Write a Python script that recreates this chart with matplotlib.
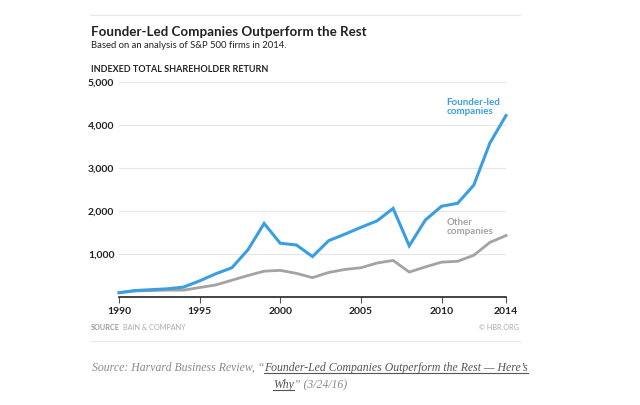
import matplotlib
matplotlib.use("Agg")
import matplotlib.pyplot as plt
from matplotlib.lines import Line2D

# data
years = list(range(1990, 2015))
founder_led = [100, 150, 170, 190, 230, 375, 540, 680, 1100, 1710, 1250, 1210, 940,
               1310, 1460, 1620, 1770, 2060, 1190, 1790, 2110, 2180, 2600, 3580, 4220]
other = [100, 140, 150, 160, 160, 220, 280, 390, 500, 600, 620, 550, 450,
         570, 640, 680, 790, 850, 580, 700, 810, 830, 970, 1270, 1430]
x_ticks = [1990, 1995, 2000, 2005, 2010, 2014]
y_ticks = [1000, 2000, 3000, 4000, 5000]

BLUE = "#3a9fe2"
GRAY = "#a3a3a3"
DARK = "#222222"
W, H = 640, 405


def fx(px):
    return px / W


def fy(py):
    return 1 - py / H


fig = plt.figure(figsize=(6.4, 4.05), dpi=100)
fig.patch.set_facecolor("white")
sans = "Lato"

ax = fig.add_axes([fx(119), fy(297), fx(506) - fx(119), fy(82) - fy(297)])
ax.plot(years, other, color=GRAY, lw=2.0, clip_on=False, solid_joinstyle="miter")
ax.plot(years, founder_led, color=BLUE, lw=2.2, clip_on=False, solid_joinstyle="miter")
ax.set_xlim(1990, 2014)
ax.set_ylim(0, 5000)
ax.set_yticks(y_ticks)
ax.set_yticklabels([f"{v:,}" for v in y_ticks])
ax.set_xticks(x_ticks)
ax.grid(axis="y", color="#e6e6e6", lw=0.8)
ax.set_axisbelow(True)
for s in ["top", "right", "left"]:
    ax.spines[s].set_visible(False)
ax.spines["bottom"].set_color(DARK)
ax.spines["bottom"].set_linewidth(1.2)
ax.tick_params(axis="y", length=0, pad=3, labelsize=7.5, labelcolor=DARK)
ax.tick_params(axis="x", length=4, width=0.8, color="#555555", pad=3,
               labelsize=7.5, labelcolor=DARK)
for lab in ax.get_yticklabels():
    lab.set_horizontalalignment("left")
    lab.set_x(-27 / 387)
for lab in ax.get_xticklabels() + ax.get_yticklabels():
    lab.set_fontfamily(sans)
    lab.set_fontweight("bold")

ax.text(2010.3, 4200, "Founder-led\ncompanies", color=BLUE, fontsize=7,
        fontweight="bold", family=sans, linespacing=1.0, va="bottom")
ax.text(2010.3, 1420, "Other\ncompanies", color=GRAY, fontsize=7,
        fontweight="bold", family=sans, linespacing=1.0, va="bottom")

# header
fig.add_artist(Line2D([fx(90), fx(520)], [fy(15), fy(15)], color="#e8e8e8", lw=0.8))
fig.text(fx(91), fy(32), "Founder-Led Companies Outperform the Rest", fontsize=9.6,
         fontweight="bold", family=sans, color=DARK, va="center")
fig.text(fx(91), fy(46), "Based on an analysis of S&P 500 firms in 2014.", fontsize=6.8,
         family=sans, color=DARK, va="center")
fig.text(fx(91), fy(70), "INDEXED TOTAL SHAREHOLDER RETURN", fontsize=6.5,
         fontweight="bold", family=sans, color=DARK, va="center")

# footer
fig.canvas.draw()
r = fig.canvas.get_renderer()
src = fig.text(fx(91), fy(327), "SOURCE", fontsize=5.2, fontweight="bold", family=sans,
               color="#999999", va="center")
sx = src.get_window_extent(renderer=r).x1
fig.text((sx + 3) / W, fy(327), "BAIN & COMPANY", fontsize=5.2, family=sans,
         color="#aaaaaa", va="center")
fig.text(fx(519), fy(327), "© HBR.ORG", fontsize=5.2, family=sans,
         color="#aaaaaa", va="center", ha="right")
fig.add_artist(Line2D([fx(90), fx(520)], [fy(341), fy(341)], color="#e8e8e8", lw=0.8))

# caption with underlined link text
serif = dict(family="Liberation Serif", style="italic", fontsize=8.5, va="baseline")


def put(x, y, s, color, underline=False):
    t = fig.text(x, y, s, color=color, **serif)
    bb = t.get_window_extent(renderer=r)
    if underline:
        fig.add_artist(Line2D([bb.x0 / W, bb.x1 / W], [y - 2 / H, y - 2 / H],
                              color=color, lw=0.8))
    return bb.x1 / W


parts1 = [("Source: Harvard Business Review, \u201c", "#8a8a8a", False),
          ("Founder-Led Companies Outperform the Rest \u2014 Here\u2019s", "#555555", True)]
parts2 = [("Why", "#555555", True), ("\u201d (3/24/16)", "#8a8a8a", False)]
for parts, ybase in [(parts1, fy(371)), (parts2, fy(388))]:
    widths = []
    for s, c, u in parts:
        t = fig.text(0, 0, s, **serif)
        widths.append(t.get_window_extent(renderer=r).width)
        t.remove()
    x = (310 - sum(widths) / 2) / W
    for s, c, u in parts:
        x = put(x, ybase, s, c, u)

fig.savefig("out.png", dpi=100, facecolor="white")
